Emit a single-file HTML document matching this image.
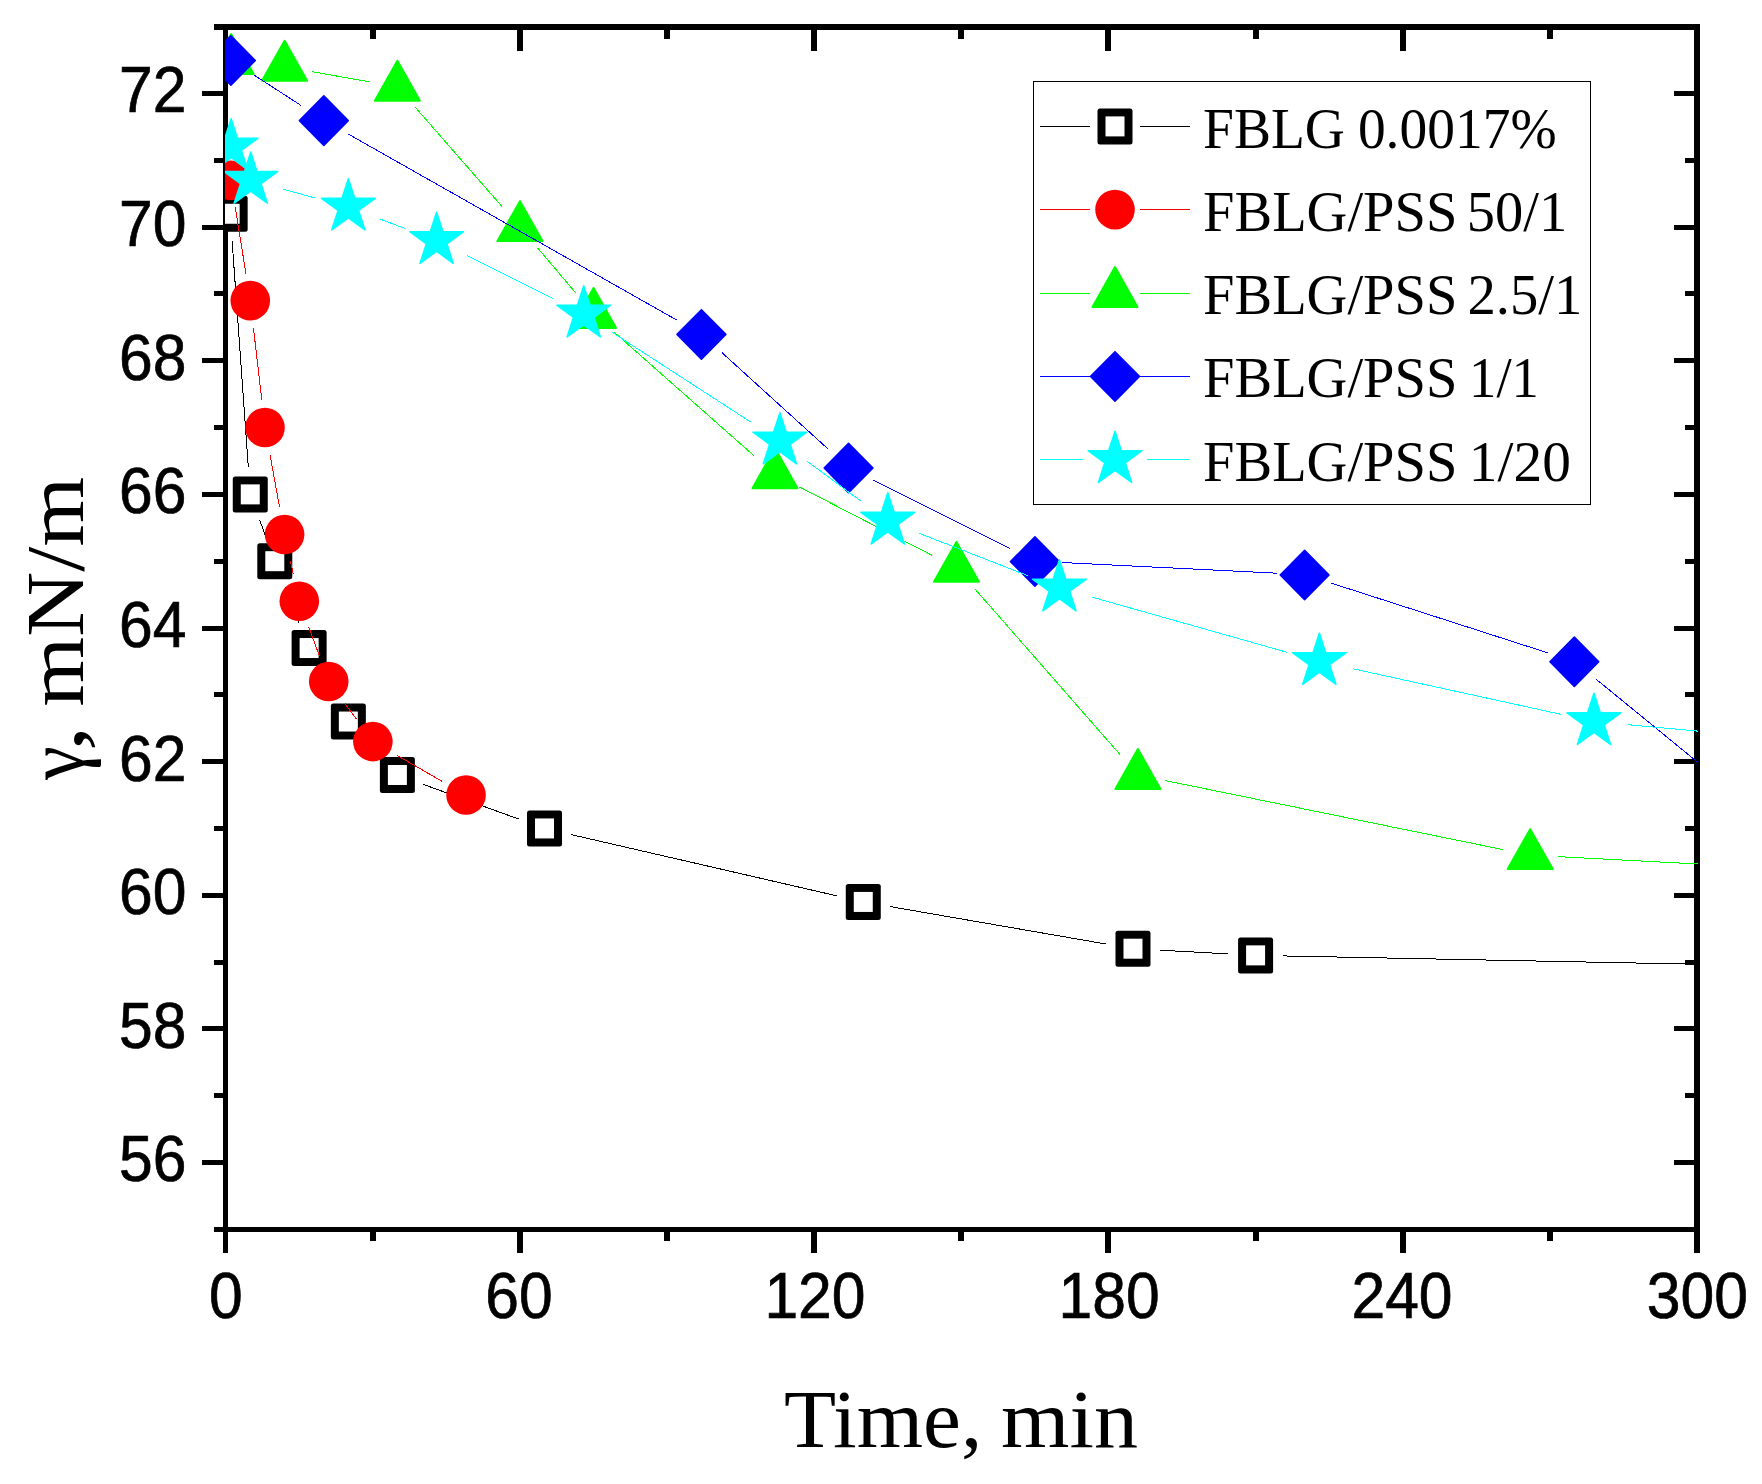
<!DOCTYPE html>
<html><head><meta charset="utf-8"><title>Surface tension vs time</title>
<style>
html,body{margin:0;padding:0;background:#fff}
svg{display:block}
.tick{font-family:"Liberation Sans",Arial,sans-serif;font-size:64px;fill:#000;stroke:#000;stroke-width:0.7px}
.ser{font-family:"Liberation Serif","Times New Roman",serif;fill:#000}
</style></head><body>
<svg width="1762" height="1484" viewBox="0 0 1762 1484">
<rect width="1762" height="1484" fill="#fff"/>
<defs><clipPath id="plot"><rect x="225" y="24" width="1473" height="1208"/></clipPath></defs>

<g fill="#000" shape-rendering="crispEdges">
<rect x="223" y="24" width="5" height="1229"/>
<rect x="1694" y="24" width="6" height="1229"/>
<rect x="214" y="24" width="1486" height="6"/>
<rect x="214" y="1227" width="1486" height="5"/>
<rect x="370" y="1232" width="6" height="9"/>
<rect x="370" y="30" width="6" height="9"/>
<rect x="517" y="1232" width="6" height="21"/>
<rect x="517" y="30" width="6" height="21"/>
<rect x="664" y="1232" width="6" height="9"/>
<rect x="664" y="30" width="6" height="9"/>
<rect x="811" y="1232" width="6" height="21"/>
<rect x="811" y="30" width="6" height="21"/>
<rect x="958" y="1232" width="6" height="9"/>
<rect x="958" y="30" width="6" height="9"/>
<rect x="1105" y="1232" width="6" height="21"/>
<rect x="1105" y="30" width="6" height="21"/>
<rect x="1253" y="1232" width="6" height="9"/>
<rect x="1253" y="30" width="6" height="9"/>
<rect x="1400" y="1232" width="6" height="21"/>
<rect x="1400" y="30" width="6" height="21"/>
<rect x="1547" y="1232" width="6" height="9"/>
<rect x="1547" y="30" width="6" height="9"/>
<rect x="202" y="1160" width="21" height="5"/>
<rect x="1674" y="1160" width="20" height="5"/>
<rect x="214" y="1093" width="9" height="5"/>
<rect x="1685" y="1093" width="9" height="5"/>
<rect x="202" y="1026" width="21" height="5"/>
<rect x="1674" y="1026" width="20" height="5"/>
<rect x="214" y="960" width="9" height="5"/>
<rect x="1685" y="960" width="9" height="5"/>
<rect x="202" y="893" width="21" height="5"/>
<rect x="1674" y="893" width="20" height="5"/>
<rect x="214" y="826" width="9" height="5"/>
<rect x="1685" y="826" width="9" height="5"/>
<rect x="202" y="759" width="21" height="5"/>
<rect x="1674" y="759" width="20" height="5"/>
<rect x="214" y="692" width="9" height="5"/>
<rect x="1685" y="692" width="9" height="5"/>
<rect x="202" y="626" width="21" height="5"/>
<rect x="1674" y="626" width="20" height="5"/>
<rect x="214" y="559" width="9" height="5"/>
<rect x="1685" y="559" width="9" height="5"/>
<rect x="202" y="492" width="21" height="5"/>
<rect x="1674" y="492" width="20" height="5"/>
<rect x="214" y="425" width="9" height="5"/>
<rect x="1685" y="425" width="9" height="5"/>
<rect x="202" y="358" width="21" height="5"/>
<rect x="1674" y="358" width="20" height="5"/>
<rect x="214" y="291" width="9" height="5"/>
<rect x="1685" y="291" width="9" height="5"/>
<rect x="202" y="225" width="21" height="5"/>
<rect x="1674" y="225" width="20" height="5"/>
<rect x="214" y="158" width="9" height="5"/>
<rect x="1685" y="158" width="9" height="5"/>
<rect x="202" y="91" width="21" height="5"/>
<rect x="1674" y="91" width="20" height="5"/>
</g>
<g class="tick" text-anchor="middle">
<text transform="translate(225.85 1318.4) scale(0.947 1)">0</text>
<text transform="translate(518.99 1318.4) scale(0.947 1)">60</text>
<text transform="translate(814.93 1318.4) scale(0.947 1)">120</text>
<text transform="translate(1109.17 1318.4) scale(0.947 1)">180</text>
<text transform="translate(1402.01 1318.4) scale(0.947 1)">240</text>
<text transform="translate(1697.35 1318.4) scale(0.947 1)">300</text>
</g>
<g class="tick" text-anchor="end">
<text transform="translate(186.4 1181.4) scale(0.947 1)">56</text>
<text transform="translate(186.4 1047.78) scale(0.947 1)">58</text>
<text transform="translate(186.4 914.15) scale(0.947 1)">60</text>
<text transform="translate(186.4 780.52) scale(0.947 1)">62</text>
<text transform="translate(186.4 646.9) scale(0.947 1)">64</text>
<text transform="translate(186.4 513.27) scale(0.947 1)">66</text>
<text transform="translate(186.4 379.65) scale(0.947 1)">68</text>
<text transform="translate(186.4 246.03) scale(0.947 1)">70</text>
<text transform="translate(186.4 112.4) scale(0.947 1)">72</text>
</g>
<text class="ser" font-size="82" y="1447"><tspan x="783.98" textLength="198.31" lengthAdjust="spacingAndGlyphs">Time,</tspan> <tspan x="1001.05" textLength="136.88" lengthAdjust="spacingAndGlyphs">min</tspan></text>
<text class="ser" font-size="82" transform="translate(82.5 780) rotate(-90)" y="0"><tspan x="0.11" textLength="33.85" lengthAdjust="spacingAndGlyphs">γ</tspan><tspan x="28.76" textLength="25.85" lengthAdjust="spacingAndGlyphs">,</tspan> <tspan x="73.31" textLength="229.79" lengthAdjust="spacingAndGlyphs">mN/m</tspan></text>
<g clip-path="url(#plot)">
<g stroke="#000000" stroke-width="1" shape-rendering="crispEdges">
<line x1="232.13" y1="241.19" x2="248.3" y2="466.95"/>
<line x1="259.74" y1="520.19" x2="265.32" y2="535.37"/>
<line x1="284.9" y1="586.76" x2="299.01" y2="622.47"/>
<line x1="322.07" y1="672.3" x2="335.4" y2="697.28"/>
<line x1="366.94" y1="741.8" x2="378.8" y2="754.72"/>
<line x1="423.24" y1="784.38" x2="518.66" y2="819.05"/>
<line x1="571.31" y1="834.62" x2="836.47" y2="895.75"/>
<line x1="890.37" y1="906.63" x2="1105.89" y2="944"/>
<line x1="1160.45" y1="950.2" x2="1228.13" y2="953.88"/>
<line x1="1283.08" y1="955.93" x2="2159.86" y2="973.54"/>
</g>
<g>
<rect x="212.66" y="195.76" width="35" height="36" rx="2.5" fill="#000000"/><rect x="220.66" y="203.76" width="19" height="20" fill="#fff"/>
<rect x="232.77" y="476.38" width="35" height="36" rx="2.5" fill="#000000"/><rect x="240.77" y="484.38" width="19" height="20" fill="#fff"/>
<rect x="257.29" y="543.19" width="35" height="36" rx="2.5" fill="#000000"/><rect x="265.29" y="551.19" width="19" height="20" fill="#fff"/>
<rect x="291.62" y="630.04" width="35" height="36" rx="2.5" fill="#000000"/><rect x="299.62" y="638.04" width="19" height="20" fill="#fff"/>
<rect x="330.85" y="703.54" width="35" height="36" rx="2.5" fill="#000000"/><rect x="338.85" y="711.54" width="19" height="20" fill="#fff"/>
<rect x="379.89" y="756.99" width="35" height="36" rx="2.5" fill="#000000"/><rect x="387.89" y="764.99" width="19" height="20" fill="#fff"/>
<rect x="527.01" y="810.44" width="35" height="36" rx="2.5" fill="#000000"/><rect x="535.01" y="818.44" width="19" height="20" fill="#fff"/>
<rect x="845.77" y="883.93" width="35" height="36" rx="2.5" fill="#000000"/><rect x="853.77" y="891.93" width="19" height="20" fill="#fff"/>
<rect x="1115.49" y="930.7" width="35" height="36" rx="2.5" fill="#000000"/><rect x="1123.49" y="938.7" width="19" height="20" fill="#fff"/>
<rect x="1238.09" y="937.38" width="35" height="36" rx="2.5" fill="#000000"/><rect x="1246.09" y="945.38" width="19" height="20" fill="#fff"/>
</g>
<g stroke="#ff0000" stroke-width="1" shape-rendering="crispEdges">
<line x1="235.27" y1="207.51" x2="245.9" y2="273.47"/>
<line x1="253.44" y1="327.94" x2="261.82" y2="400.25"/>
<line x1="269.95" y1="454.61" x2="279.63" y2="507.41"/>
<line x1="290.51" y1="561.32" x2="293.4" y2="574.42"/>
<line x1="308.78" y1="627.09" x2="319.26" y2="655.63"/>
<line x1="345.01" y1="703.62" x2="356.6" y2="719.41"/>
<line x1="396.72" y1="755.26" x2="442.19" y2="781.35"/>
</g>
<g>
<circle cx="230.9" cy="180.36" r="19.8" fill="#ff0000"/>
<circle cx="250.27" cy="300.62" r="19.8" fill="#ff0000"/>
<circle cx="264.98" cy="427.56" r="19.8" fill="#ff0000"/>
<circle cx="284.6" cy="534.46" r="19.8" fill="#ff0000"/>
<circle cx="299.31" cy="601.27" r="19.8" fill="#ff0000"/>
<circle cx="328.73" cy="681.45" r="19.8" fill="#ff0000"/>
<circle cx="372.87" cy="741.58" r="19.8" fill="#ff0000"/>
<circle cx="466.05" cy="795.03" r="19.8" fill="#ff0000"/>
</g>
<g stroke="#00ff00" stroke-width="1" shape-rendering="crispEdges">
<line x1="311.67" y1="71.59" x2="370.31" y2="82.01"/>
<line x1="415.48" y1="107.53" x2="501.9" y2="206.42"/>
<line x1="537.76" y1="248.11" x2="575.78" y2="293"/>
<line x1="614.16" y1="332.19" x2="754.39" y2="456.12"/>
<line x1="799.44" y1="486.93" x2="932" y2="555.27"/>
<line x1="974.57" y1="588.55" x2="1119.77" y2="754.3"/>
<line x1="1164.84" y1="780.49" x2="1503.27" y2="849.66"/>
<line x1="1557.68" y1="856.61" x2="2159.89" y2="888.45"/>
</g>
<g>
<polygon points="231.14,34.09 253.64,73.99 208.64,73.99" fill="#00ff00" stroke="#00ff00" stroke-width="2" stroke-linejoin="round"/>
<polygon points="284.6,40.77 307.1,80.67 262.1,80.67" fill="#00ff00" stroke="#00ff00" stroke-width="2" stroke-linejoin="round"/>
<polygon points="397.39,60.82 419.89,100.72 374.89,100.72" fill="#00ff00" stroke="#00ff00" stroke-width="2" stroke-linejoin="round"/>
<polygon points="519.99,201.12 542.49,241.03 497.49,241.03" fill="#00ff00" stroke="#00ff00" stroke-width="2" stroke-linejoin="round"/>
<polygon points="593.55,287.98 616.05,327.88 571.05,327.88" fill="#00ff00" stroke="#00ff00" stroke-width="2" stroke-linejoin="round"/>
<polygon points="775,448.33 797.5,488.23 752.5,488.23" fill="#00ff00" stroke="#00ff00" stroke-width="2" stroke-linejoin="round"/>
<polygon points="956.45,541.87 978.95,581.77 933.95,581.77" fill="#00ff00" stroke="#00ff00" stroke-width="2" stroke-linejoin="round"/>
<polygon points="1137.89,748.99 1160.39,788.89 1115.39,788.89" fill="#00ff00" stroke="#00ff00" stroke-width="2" stroke-linejoin="round"/>
<polygon points="1530.21,829.16 1552.71,869.06 1507.71,869.06" fill="#00ff00" stroke="#00ff00" stroke-width="2" stroke-linejoin="round"/>
</g>
<g stroke="#0000ff" stroke-width="1" shape-rendering="crispEdges">
<line x1="253.99" y1="75.03" x2="300.74" y2="105.29"/>
<line x1="347.76" y1="133.77" x2="677.51" y2="320.48"/>
<line x1="721.79" y1="352.51" x2="828.2" y2="449.16"/>
<line x1="873.14" y1="479.99" x2="1010.33" y2="548.85"/>
<line x1="1062.38" y1="562.55" x2="1277.16" y2="573.19"/>
<line x1="1330.81" y1="582.98" x2="1548.17" y2="652.98"/>
<line x1="1595.64" y1="678.81" x2="1798.26" y2="844.44"/>
</g>
<g>
<polygon points="230.9,35.79 255.3,60.49 230.9,85.19 206.5,60.49" fill="#0000ff" stroke="#0000ff" stroke-width="1.6" stroke-linejoin="round"/>
<polygon points="323.83,95.93 348.23,120.63 323.83,145.33 299.43,120.63" fill="#0000ff" stroke="#0000ff" stroke-width="1.6" stroke-linejoin="round"/>
<polygon points="701.44,309.72 725.84,334.42 701.44,359.12 677.04,334.42" fill="#0000ff" stroke="#0000ff" stroke-width="1.6" stroke-linejoin="round"/>
<polygon points="848.56,443.35 872.96,468.05 848.56,492.75 824.16,468.05" fill="#0000ff" stroke="#0000ff" stroke-width="1.6" stroke-linejoin="round"/>
<polygon points="1034.91,536.89 1059.31,561.59 1034.91,586.29 1010.51,561.59" fill="#0000ff" stroke="#0000ff" stroke-width="1.6" stroke-linejoin="round"/>
<polygon points="1304.63,550.25 1329.03,574.95 1304.63,599.65 1280.23,574.95" fill="#0000ff" stroke="#0000ff" stroke-width="1.6" stroke-linejoin="round"/>
<polygon points="1574.35,637.11 1598.75,661.81 1574.35,686.51 1549.95,661.81" fill="#0000ff" stroke="#0000ff" stroke-width="1.6" stroke-linejoin="round"/>
</g>
<g stroke="#00ffff" stroke-width="1" shape-rendering="crispEdges">
<line x1="283.55" y1="189.34" x2="315.56" y2="198.1"/>
<line x1="380.15" y1="219.12" x2="404.82" y2="228.45"/>
<line x1="467.04" y1="255.68" x2="553.33" y2="298.79"/>
<line x1="612.29" y1="332.45" x2="751.36" y2="422.45"/>
<line x1="807.19" y1="461.2" x2="860.5" y2="500.82"/>
<line x1="919.47" y1="533.43" x2="1027.75" y2="575.58"/>
<line x1="1092.15" y1="597.16" x2="1286.62" y2="652.16"/>
<line x1="1352.56" y1="668.68" x2="1560.75" y2="714.27"/>
<line x1="1627.82" y1="724.66" x2="2153.49" y2="773.2"/>
</g>
<g>
<polygon points="231.14,118.65 237.5,138.2 258.06,138.2 241.43,150.29 247.78,169.85 231.14,157.76 214.51,169.85 220.86,150.29 204.23,138.2 224.79,138.2" fill="#00ffff" stroke="#00ffff" stroke-width="1.5" stroke-linejoin="round"/>
<polygon points="250.76,152.06 257.11,171.61 277.68,171.61 261.04,183.7 267.39,203.25 250.76,191.17 234.13,203.25 240.48,183.7 223.85,171.61 244.41,171.61" fill="#00ffff" stroke="#00ffff" stroke-width="1.5" stroke-linejoin="round"/>
<polygon points="348.35,178.78 354.7,198.34 375.26,198.34 358.63,210.42 364.98,229.98 348.35,217.89 331.72,229.98 338.07,210.42 321.44,198.34 342,198.34" fill="#00ffff" stroke="#00ffff" stroke-width="1.5" stroke-linejoin="round"/>
<polygon points="436.62,212.19 442.98,231.74 463.54,231.74 446.9,243.83 453.26,263.38 436.62,251.3 419.99,263.38 426.34,243.83 409.71,231.74 430.27,231.74" fill="#00ffff" stroke="#00ffff" stroke-width="1.5" stroke-linejoin="round"/>
<polygon points="583.74,285.68 590.1,305.24 610.66,305.24 594.02,317.32 600.38,336.88 583.74,324.79 567.11,336.88 573.46,317.32 556.83,305.24 577.39,305.24" fill="#00ffff" stroke="#00ffff" stroke-width="1.5" stroke-linejoin="round"/>
<polygon points="779.9,412.63 786.26,432.18 806.82,432.18 790.18,444.27 796.54,463.82 779.9,451.74 763.27,463.82 769.62,444.27 752.99,432.18 773.55,432.18" fill="#00ffff" stroke="#00ffff" stroke-width="1.5" stroke-linejoin="round"/>
<polygon points="887.79,492.8 894.14,512.35 914.7,512.35 898.07,524.44 904.42,544 887.79,531.91 871.16,544 877.51,524.44 860.88,512.35 881.44,512.35" fill="#00ffff" stroke="#00ffff" stroke-width="1.5" stroke-linejoin="round"/>
<polygon points="1059.43,559.61 1065.78,579.17 1086.34,579.17 1069.71,591.25 1076.06,610.81 1059.43,598.72 1042.8,610.81 1049.15,591.25 1032.52,579.17 1053.08,579.17" fill="#00ffff" stroke="#00ffff" stroke-width="1.5" stroke-linejoin="round"/>
<polygon points="1319.34,633.11 1325.7,652.66 1346.26,652.66 1329.62,664.75 1335.98,684.3 1319.34,672.22 1302.71,684.3 1309.06,664.75 1292.43,652.66 1312.99,652.66" fill="#00ffff" stroke="#00ffff" stroke-width="1.5" stroke-linejoin="round"/>
<polygon points="1593.97,693.24 1600.32,712.79 1620.88,712.79 1604.25,724.88 1610.6,744.43 1593.97,732.35 1577.33,744.43 1583.68,724.88 1567.05,712.79 1587.61,712.79" fill="#00ffff" stroke="#00ffff" stroke-width="1.5" stroke-linejoin="round"/>
</g>
</g>
<rect x="1033.5" y="81.5" width="557" height="423" fill="#fff" stroke="#000" stroke-width="1" shape-rendering="crispEdges"/>
<g stroke="#000000" stroke-width="1" shape-rendering="crispEdges"><line x1="1040" y1="126.5" x2="1090" y2="126.5"/><line x1="1140" y1="126.5" x2="1190" y2="126.5"/></g>
<rect x="1097.5" y="108.4" width="35" height="36" rx="2.5" fill="#000000"/><rect x="1105.5" y="116.4" width="19" height="20" fill="#fff"/>
<g stroke="#ff0000" stroke-width="1" shape-rendering="crispEdges"><line x1="1040" y1="209.5" x2="1090" y2="209.5"/><line x1="1140" y1="209.5" x2="1190" y2="209.5"/></g>
<circle cx="1115" cy="209.6" r="19.8" fill="#ff0000"/>
<g stroke="#00ff00" stroke-width="1" shape-rendering="crispEdges"><line x1="1040" y1="293.5" x2="1090" y2="293.5"/><line x1="1140" y1="293.5" x2="1190" y2="293.5"/></g>
<polygon points="1115,267 1137.5,306.9 1092.5,306.9" fill="#00ff00" stroke="#00ff00" stroke-width="2" stroke-linejoin="round"/>
<g stroke="#0000ff" stroke-width="1" shape-rendering="crispEdges"><line x1="1040" y1="376.5" x2="1090" y2="376.5"/><line x1="1140" y1="376.5" x2="1190" y2="376.5"/></g>
<polygon points="1115,351.7 1139.4,376.4 1115,401.1 1090.6,376.4" fill="#0000ff" stroke="#0000ff" stroke-width="1.6" stroke-linejoin="round"/>
<g stroke="#00ffff" stroke-width="1" shape-rendering="crispEdges"><line x1="1040" y1="459.5" x2="1083" y2="459.5"/><line x1="1147" y1="459.5" x2="1190" y2="459.5"/></g>
<polygon points="1115,431.2 1121.35,450.75 1141.91,450.75 1125.28,462.84 1131.63,482.4 1115,470.31 1098.37,482.4 1104.72,462.84 1088.09,450.75 1108.65,450.75" fill="#00ffff" stroke="#00ffff" stroke-width="1.5" stroke-linejoin="round"/>
<text class="ser" font-size="57" y="147.5"><tspan x="1203.1" textLength="141.83" lengthAdjust="spacingAndGlyphs">FBLG</tspan> <tspan x="1357.89" textLength="198.71" lengthAdjust="spacingAndGlyphs">0.0017%</tspan></text>
<text class="ser" font-size="57" y="230.7"><tspan x="1203.07" textLength="254.23" lengthAdjust="spacingAndGlyphs">FBLG/PSS</tspan> <tspan x="1466.72" textLength="100.48" lengthAdjust="spacingAndGlyphs">50/1</tspan></text>
<text class="ser" font-size="57" y="314.1"><tspan x="1203.07" textLength="254.23" lengthAdjust="spacingAndGlyphs">FBLG/PSS</tspan> <tspan x="1467.51" textLength="114.89" lengthAdjust="spacingAndGlyphs">2.5/1</tspan></text>
<text class="ser" font-size="57" y="397.1"><tspan x="1203.07" textLength="254.23" lengthAdjust="spacingAndGlyphs">FBLG/PSS</tspan> <tspan x="1469.09" textLength="69.89" lengthAdjust="spacingAndGlyphs">1/1</tspan></text>
<text class="ser" font-size="57" y="480.6"><tspan x="1203.07" textLength="254.23" lengthAdjust="spacingAndGlyphs">FBLG/PSS</tspan> <tspan x="1468.86" textLength="102.03" lengthAdjust="spacingAndGlyphs">1/20</tspan></text>
</svg></body></html>
